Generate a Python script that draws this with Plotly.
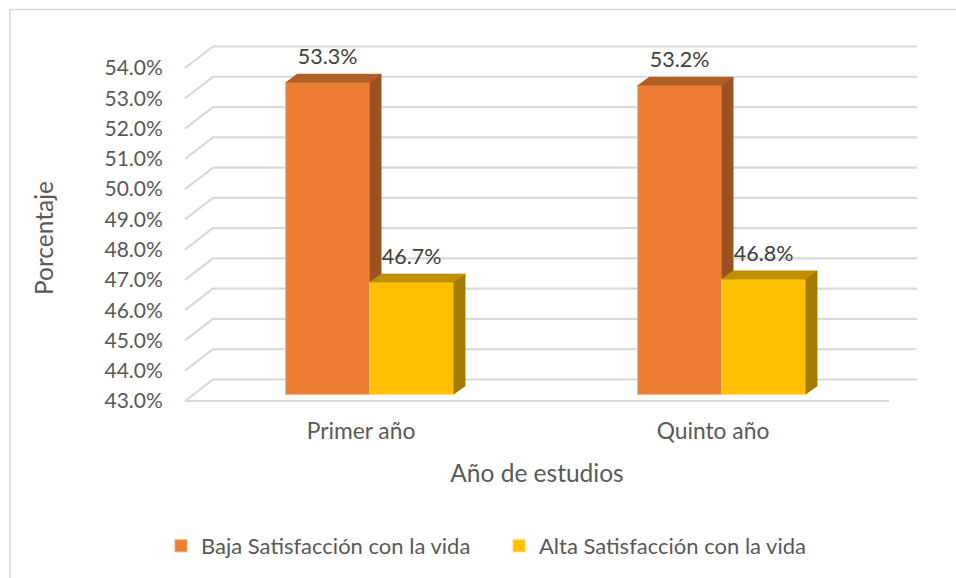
import plotly.graph_objects as go

categories = ["Primer año", "Quinto año"]
baja = [53.3, 53.2]
alta = [46.7, 46.8]
tick_values = [43, 44, 45, 46, 47, 48, 49, 50, 51, 52, 53, 54]
series_names = ["Baja Satisfacción con la vida", "Alta Satisfacción con la vida"]

W, H = 956, 578
FLOOR, TOP = 401, 68          # screen y of 43 and 54 on the front plane
LEFT, RIGHT = 185, 889        # screen x of the front floor edge
UY = (FLOOR - TOP) / 11       # px per percentage point
UX = (RIGHT - LEFT) / 2       # px per category
BASE = 43
BAR_W = 84 / UX
font = "Lato"
GREY = "#595959"
xs = list(range(len(categories)))

XR = [-0.5, 1.5]
# full-page ranges, so that the 3D faces and the back wall are never clipped
XFULL = [XR[0] - LEFT / UX, XR[0] + (W - LEFT) / UX]
YFULL = [BASE - (H - FLOOR) / UY, BASE + FLOOR / UY]
# bars stand part-way back on the floor
SHIFT_X, SHIFT_Y = 8.7 / UX, 6.7 / UY
XBAR = [v - SHIFT_X for v in XFULL]
YBAR = [v - SHIFT_Y for v in YFULL]
# depth of a bar, depth of the back wall
DX, DY = 11.5 / UX, 8.4 / UY
WX, WY = 28 / UX, 21.5 / UY
AXIS_PAD = 7                  # labelled y axis runs this far below the floor

fig = go.Figure()

# labelled axes
fig.add_trace(go.Scatter(x=xs, y=[None] * len(xs), mode="lines", showlegend=False, hoverinfo="skip"))

# wall and floor gridlines
gx, gy = [], []
for v in tick_values:
    gx += [XR[0], XR[0] + WX, XR[1] + WX, None]
    gy += [v, v + WY, v + WY, None]
gx += [XR[0], XR[1], None]
gy += [BASE, BASE, None]
fig.add_trace(go.Scatter(x=gx, y=gy, mode="lines", line=dict(color="#d9d9d9", width=2.2),
                         showlegend=False, hoverinfo="skip", xaxis="x2", yaxis="y2"))


def add_series(values, offset, name, face, edge, top, side, ax):
    xa, ya = f"x{ax}", f"y{ax}"
    centers = [x + offset for x in xs]
    fig.add_trace(go.Bar(x=centers, y=[v - BASE for v in values], base=BASE, width=BAR_W, name=name,
                         marker=dict(color=face, line=dict(color=edge, width=1)),
                         xaxis=xa, yaxis=ya))
    for c, v in zip(centers, values):
        l, r = c - BAR_W / 2, c + BAR_W / 2
        fig.add_trace(go.Scatter(x=[l, r, r + DX, l + DX, l], y=[v, v, v + DY, v + DY, v],
                                 fill="toself", fillcolor=top, mode="lines", line=dict(color=top, width=0.5),
                                 showlegend=False, hoverinfo="skip", xaxis=xa, yaxis=ya))
        fig.add_trace(go.Scatter(x=[r, r + DX, r + DX, r, r], y=[BASE, BASE + DY, v + DY, v, BASE],
                                 fill="toself", fillcolor=side, mode="lines", line=dict(color=side, width=0.5),
                                 showlegend=False, hoverinfo="skip", xaxis=xa, yaxis=ya))
    fig.add_trace(go.Scatter(x=centers, y=[v + 24 / UY for v in values], mode="text",
                             text=[f"{v:.1f}%" for v in values], textposition="middle center",
                             textfont=dict(family=font, size=21.5, color="#404040"),
                             showlegend=False, hoverinfo="skip", xaxis=xa, yaxis=ya))


add_series(baja, -BAR_W / 2, series_names[0], "#ED7D31", "#F4A878", "#B35E25", "#9C5220", 3)
add_series(alta, BAR_W / 2, series_names[1], "#FFC000", "#FFD65C", "#C09000", "#A67C00", 4)


def hidden(rng, anchor):
    return dict(visible=False, fixedrange=True, range=rng, domain=[0, 1], anchor=anchor, automargin=False)


fig.update_layout(
    width=W, height=H, margin=dict(l=0, r=0, t=0, b=0),
    paper_bgcolor="white", plot_bgcolor="rgba(0,0,0,0)",
    barmode="overlay", font=dict(family=font, color=GREY),
    xaxis=dict(domain=[LEFT / W, RIGHT / W], range=XR, tickmode="array", tickvals=xs, ticktext=categories,
               ticks="outside", ticklen=3, tickcolor="rgba(0,0,0,0)", showgrid=False, zeroline=False, showline=False,
               tickfont=dict(family=font, size=22.8, color=GREY), fixedrange=True, automargin=False,
               title=dict(text="Año de estudios", font=dict(family=font, size=24.5, color=GREY), standoff=21)),
    yaxis=dict(domain=[1 - (FLOOR + AXIS_PAD) / H, 1 - TOP / H], range=[BASE - AXIS_PAD / UY, 54],
               tickmode="array", tickvals=tick_values,
               ticktext=[f"{v:.1f}%" for v in tick_values],
               ticks="outside", ticklen=17, tickcolor="rgba(0,0,0,0)", showgrid=False, zeroline=False, showline=False,
               tickfont=dict(family=font, size=21, color=GREY), fixedrange=True, automargin=False,
               title=dict(text="Porcentaje", font=dict(family=font, size=24.5, color=GREY), standoff=43)),
    xaxis2=hidden(XFULL, "y2"), yaxis2=hidden(YFULL, "x2"),
    xaxis3=hidden(XBAR, "y3"), yaxis3=hidden(YBAR, "x3"),
    xaxis4=hidden(XBAR, "y4"), yaxis4=hidden(YBAR, "x4"),
    legend=dict(orientation="h", x=161 / W, y=1 - 546 / H, xanchor="left", yanchor="middle",
                entrywidth=293, entrywidthmode="pixels", traceorder="normal",
                font=dict(family=font, size=22, color=GREY), bgcolor="rgba(0,0,0,0)"),
    shapes=[
        dict(type="line", xref="paper", yref="paper", x0=10 / W, x1=1, y0=1 - 9.5 / H, y1=1 - 9.5 / H,
             line=dict(color="#d9d9d9", width=1.5)),
        dict(type="line", xref="paper", yref="paper", x0=10 / W, x1=10 / W, y0=0, y1=1 - 9.5 / H,
             line=dict(color="#d9d9d9", width=1.5)),
    ],
)

fig.write_html("out.html", config={"displayModeBar": False},
               post_script="document.body.style.margin='0';document.documentElement.style.overflow='hidden';")
